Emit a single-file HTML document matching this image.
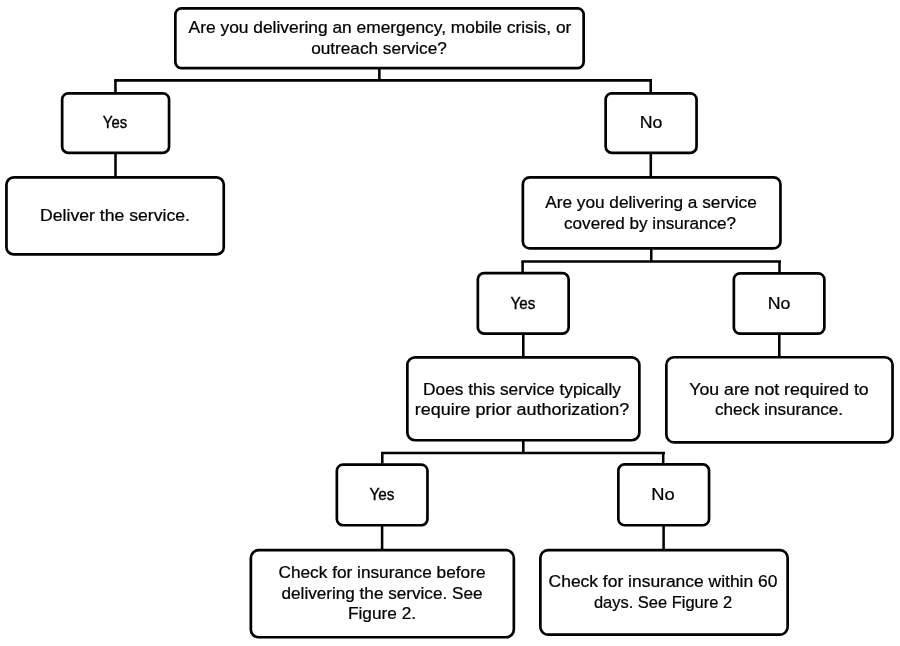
<!DOCTYPE html>
<html><head><meta charset="utf-8"><title>Flowchart</title>
<style>
html,body{margin:0;padding:0;background:#fff;}
body{width:900px;height:646px;position:relative;overflow:hidden;font-family:"Liberation Sans",sans-serif;color:#000;}
svg{position:absolute;left:0;top:0;}
.t{position:absolute;-webkit-text-stroke:0.25px #000;filter:grayscale(1);width:600px;text-align:center;white-space:nowrap;font-size:17.70px;line-height:17.70px;transform-origin:50% 14.98px;}
</style></head><body>

<svg width="900" height="646" viewBox="0 0 900 646">
<rect x="175.35" y="8.35" width="408.30" height="59.80" rx="6.18" ry="6.18" fill="#fff" stroke="#000" stroke-width="2.7"/>
<rect x="62.15" y="93.35" width="106.90" height="59.50" rx="6.16" ry="6.16" fill="#fff" stroke="#000" stroke-width="2.7"/>
<rect x="6.45" y="177.35" width="217.30" height="77.00" rx="7.21" ry="7.21" fill="#fff" stroke="#000" stroke-width="2.7"/>
<rect x="605.65" y="93.35" width="90.90" height="59.50" rx="6.16" ry="6.16" fill="#fff" stroke="#000" stroke-width="2.7"/>
<rect x="522.85" y="177.35" width="257.60" height="71.00" rx="6.85" ry="6.85" fill="#fff" stroke="#000" stroke-width="2.7"/>
<rect x="477.85" y="273.15" width="90.80" height="60.50" rx="6.22" ry="6.22" fill="#fff" stroke="#000" stroke-width="2.7"/>
<rect x="733.85" y="273.35" width="90.50" height="60.30" rx="6.21" ry="6.21" fill="#fff" stroke="#000" stroke-width="2.7"/>
<rect x="407.35" y="357.45" width="232.00" height="82.80" rx="7.56" ry="7.56" fill="#fff" stroke="#000" stroke-width="2.7"/>
<rect x="666.35" y="357.25" width="226.20" height="85.10" rx="7.70" ry="7.70" fill="#fff" stroke="#000" stroke-width="2.7"/>
<rect x="336.85" y="464.55" width="90.60" height="60.70" rx="6.23" ry="6.23" fill="#fff" stroke="#000" stroke-width="2.7"/>
<rect x="618.35" y="464.35" width="90.70" height="60.90" rx="6.25" ry="6.25" fill="#fff" stroke="#000" stroke-width="2.7"/>
<rect x="250.85" y="550.15" width="263.00" height="87.10" rx="7.82" ry="7.82" fill="#fff" stroke="#000" stroke-width="2.7"/>
<rect x="540.35" y="550.15" width="247.30" height="84.50" rx="7.66" ry="7.66" fill="#fff" stroke="#000" stroke-width="2.7"/>
<line x1="114.20" y1="80.35" x2="652.00" y2="80.35" stroke="#000" stroke-width="2.55" stroke-linecap="butt"/>
<line x1="115.45" y1="80.35" x2="115.45" y2="92.80" stroke="#000" stroke-width="2.55" stroke-linecap="butt"/>
<line x1="379.35" y1="69.00" x2="379.35" y2="80.35" stroke="#000" stroke-width="2.55" stroke-linecap="butt"/>
<line x1="650.70" y1="80.35" x2="650.70" y2="92.80" stroke="#000" stroke-width="2.55" stroke-linecap="butt"/>
<line x1="115.50" y1="153.80" x2="115.50" y2="176.50" stroke="#000" stroke-width="2.55" stroke-linecap="butt"/>
<line x1="650.80" y1="153.80" x2="650.80" y2="176.50" stroke="#000" stroke-width="2.55" stroke-linecap="butt"/>
<line x1="521.40" y1="261.40" x2="781.00" y2="261.40" stroke="#000" stroke-width="2.55" stroke-linecap="butt"/>
<line x1="651.25" y1="249.00" x2="651.25" y2="261.40" stroke="#000" stroke-width="2.55" stroke-linecap="butt"/>
<line x1="522.60" y1="261.40" x2="522.60" y2="272.50" stroke="#000" stroke-width="2.55" stroke-linecap="butt"/>
<line x1="779.50" y1="261.40" x2="779.50" y2="272.50" stroke="#000" stroke-width="2.55" stroke-linecap="butt"/>
<line x1="523.30" y1="334.50" x2="523.30" y2="356.80" stroke="#000" stroke-width="2.55" stroke-linecap="butt"/>
<line x1="779.30" y1="334.50" x2="779.30" y2="356.50" stroke="#000" stroke-width="2.55" stroke-linecap="butt"/>
<line x1="381.00" y1="453.00" x2="665.00" y2="453.00" stroke="#000" stroke-width="2.55" stroke-linecap="butt"/>
<line x1="523.30" y1="441.00" x2="523.30" y2="453.00" stroke="#000" stroke-width="2.55" stroke-linecap="butt"/>
<line x1="382.30" y1="453.00" x2="382.30" y2="463.50" stroke="#000" stroke-width="2.55" stroke-linecap="butt"/>
<line x1="663.20" y1="453.00" x2="663.20" y2="463.50" stroke="#000" stroke-width="2.55" stroke-linecap="butt"/>
<line x1="382.10" y1="526.00" x2="382.10" y2="549.00" stroke="#000" stroke-width="2.55" stroke-linecap="butt"/>
<line x1="663.60" y1="526.00" x2="663.60" y2="549.00" stroke="#000" stroke-width="2.55" stroke-linecap="butt"/>
</svg>
<div class="t" style="left:79.50px;top:19.02px;transform:scale(0.9815,0.92)">Are you delivering an emergency, mobile crisis, or</div>
<div class="t" style="left:78.50px;top:39.52px;transform:scale(0.9705,0.92)">outreach service?</div>
<div class="t" style="left:-185.50px;top:114.02px;transform:scale(0.8424,0.92);-webkit-text-stroke-width:0.4px">Yes</div>
<div class="t" style="left:-185.00px;top:206.52px;transform:scale(0.9966,0.92)">Deliver the service.</div>
<div class="t" style="left:350.50px;top:113.52px;transform:scale(1.0023,0.92)">No</div>
<div class="t" style="left:350.50px;top:193.92px;transform:scale(0.9738,0.92)">Are you delivering a service</div>
<div class="t" style="left:350.00px;top:215.02px;transform:scale(0.9655,0.92)">covered by insurance?</div>
<div class="t" style="left:223.00px;top:294.52px;transform:scale(0.8614,0.92);-webkit-text-stroke-width:0.4px">Yes</div>
<div class="t" style="left:478.50px;top:295.02px;transform:scale(1.0023,0.92)">No</div>
<div class="t" style="left:222.00px;top:380.52px;transform:scale(0.9771,0.92)">Does this service typically</div>
<div class="t" style="left:222.00px;top:401.02px;transform:scale(1.0148,0.92)">require prior authorization?</div>
<div class="t" style="left:479.00px;top:380.52px;transform:scale(1.0006,0.92)">You are not required to</div>
<div class="t" style="left:479.00px;top:401.02px;transform:scale(0.9649,0.92)">check insurance.</div>
<div class="t" style="left:82.00px;top:486.02px;transform:scale(0.8656,0.92);-webkit-text-stroke-width:0.4px">Yes</div>
<div class="t" style="left:363.00px;top:485.92px;transform:scale(1.0352,0.92)">No</div>
<div class="t" style="left:82.00px;top:563.92px;transform:scale(0.9749,0.92)">Check for insurance before</div>
<div class="t" style="left:82.00px;top:584.52px;transform:scale(0.9685,0.92)">delivering the service. See</div>
<div class="t" style="left:81.50px;top:605.02px;transform:scale(0.9754,0.92)">Figure 2.</div>
<div class="t" style="left:363.00px;top:572.52px;transform:scale(0.9862,0.92)">Check for insurance within 60</div>
<div class="t" style="left:363.00px;top:594.02px;transform:scale(0.9306,0.92)">days. See Figure 2</div>
</body></html>
